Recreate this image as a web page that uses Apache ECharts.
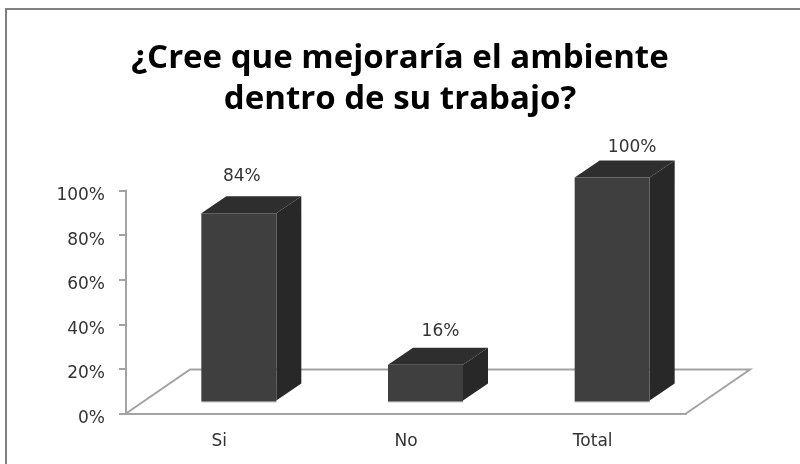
<!DOCTYPE html>
<html><head><meta charset="utf-8">
<style>html,body{margin:0;padding:0;background:#fff}#c{width:800px;height:464px}</style>
<script src="https://cdn.jsdelivr.net/npm/echarts@6/dist/echarts.min.js"></script>
</head><body><div id="c"></div>
<script>
const categories = ['Si', 'No', 'Total'];
const values = [84, 16, 100];
const yTicks = [0, 20, 40, 60, 80, 100];
const titleText = '¿Cree que mejoraría el ambiente\ndentro de su trabajo?';
const labelNudgeX = [3, 15, 20];
const labelNudgeY = [-37, -33, -30];

const FONT = '"DejaVu Sans", sans-serif';
const TITLE_FONT = '"Open Sans", "Noto Sans", sans-serif';
const GL = 126, GT = 190.5, GW = 560, GH = 223;
const DX = 64, DY = -44;          // floor depth
const BX = 19.5, BY = -13;        // bar offset from the axis plane
const BW = 75, SX = 25, SY = -17; // bar width and depth
const lineCol = '#a3a3a3';

function floorItem(params, api) {
  const a = api.coord([0, 0]);
  const x0 = GL, x1 = GL + GW, y = a[1];
  return {
    type: 'group',
    silent: true,
    children: [
      { type: 'polyline', shape: { points: [[x0, y], [x0 + DX, y + DY], [x1 + DX, y + DY], [x1, y]] },
        style: { stroke: lineCol, lineWidth: 2, fill: null } }
    ]
  };
}
function barItem(params, api) {
  const base = api.coord([api.value(0), 0]);
  const top = api.coord([api.value(0), api.value(1)]);
  const x = base[0] + BX - BW / 2, xr = x + BW;
  const yb = base[1] + BY, yt = top[1] + BY;
  return {
    type: 'group',
    children: [
      { type: 'polygon', shape: { points: [[x, yb + 1], [xr, yb + 1], [xr, yb + 2], [x, yb + 2]] },
        style: { fill: '#c4c4c4' } },
      { type: 'polygon', shape: { points: [[xr, yt], [xr + SX, yt + SY], [xr + SX, yb + SY], [xr, yb]] },
        style: { fill: '#282828' } },
      { type: 'polygon', shape: { points: [[x, yt], [x + SX, yt + SY], [xr + SX, yt + SY], [xr, yt]] },
        style: { fill: '#2e2e2e' } },
      { type: 'rect', shape: { x: x, y: yt, width: BW, height: yb - yt + 1 },
        style: { fill: '#3f3f3f' } },
      { type: 'text', x: x + BW / 2 + labelNudgeX[params.dataIndex], y: yt + labelNudgeY[params.dataIndex],
        style: { text: values[params.dataIndex] + '%', fill: '#333', font: '17px ' + FONT, align: 'center', verticalAlign: 'middle' } }
    ]
  };
}

const chart = echarts.init(document.getElementById('c'), null, { renderer: 'canvas' });
chart.setOption({
  animation: false,
  backgroundColor: '#fff',
  title: {
    text: titleText, left: 395, top: 33, textAlign: 'center',
    textStyle: { fontFamily: TITLE_FONT, fontSize: 33, fontWeight: 'bold', color: '#000', lineHeight: 41 }
  },
  grid: { left: GL, top: GT, width: GW, height: GH, show: false },
  xAxis: {
    type: 'category', data: categories, boundaryGap: true,
    axisLine: { lineStyle: { color: lineCol, width: 2 } },
    axisTick: { length: 6, lineStyle: { color: lineCol, width: 2 } },
    axisLabel: { color: '#333', fontFamily: FONT, fontSize: 17, margin: 20 }
  },
  yAxis: {
    type: 'value', min: 0, max: 100, interval: 20,
    axisLine: { show: true, lineStyle: { color: lineCol, width: 2 } },
    axisTick: { show: true, length: 7, lineStyle: { color: lineCol, width: 2 } },
    splitLine: { show: false },
    axisLabel: { color: '#333', fontFamily: FONT, fontSize: 17, margin: 21, verticalAlign: 'top', lineHeight: 10,
      formatter: v => yTicks.includes(v) ? v + '%' : '' }
  },
  graphic: [{
    type: 'polyline', z: -1, silent: true,
    shape: { points: [[6, 464], [6, 9], [800, 9]] },
    style: { fill: null, stroke: '#808080', lineWidth: 2 }
  }],
  series: [
    { type: 'custom', z: 1, coordinateSystem: 'cartesian2d', renderItem: floorItem, data: [[0, 0]], silent: true },
    { type: 'custom', z: 2, coordinateSystem: 'cartesian2d', renderItem: barItem,
      encode: { x: 0, y: 1 }, data: categories.map((c, i) => [i, values[i]]) }
  ]
});
</script></body></html>
